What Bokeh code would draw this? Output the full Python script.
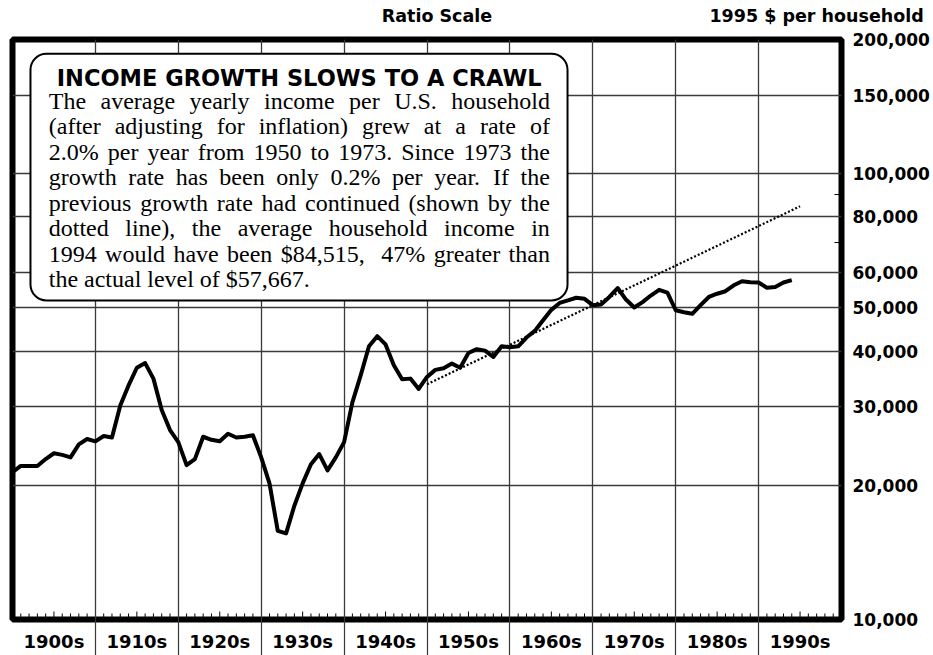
from bokeh.plotting import figure
from bokeh.models import (FixedTicker, BoxAnnotation, Label, LabelSet,
                          ColumnDataSource, Range1d, LinearAxis)
from bokeh.core.properties import value
from bokeh.embed import file_html
from bokeh.resources import INLINE

# ---------------- data ----------------
years = list(range(1900, 1995))
income = [
    21400, 22100, 22100, 22100, 22900, 23600, 23400, 23100, 24700, 25400,   # 1900s
    25100, 25800, 25600, 30200, 33500, 36700, 37600, 34700, 29500, 26600,   # 1910s
    25000, 22200, 22900, 25700, 25300, 25100, 26100, 25600, 25700, 25900,   # 1920s
    23100, 20200, 15800, 15600, 18000, 20200, 22300, 23500, 21600, 23100,   # 1930s
    25000, 30700, 35300, 41000, 43200, 41400, 37200, 34600, 34700, 32900,   # 1940s
    35000, 36300, 36600, 37500, 36700, 39600, 40400, 40100, 38800, 41000,   # 1950s
    40800, 41000, 42900, 44400, 46900, 49500, 51300, 52000, 52700, 52400,   # 1960s
    50700, 50900, 52900, 55400, 52200, 50100, 51500, 53300, 54900, 54100,   # 1970s
    49400, 48900, 48500, 50700, 52900, 53800, 54500, 56200, 57400, 57100,   # 1980s
    57000, 55500, 55700, 57000, 57700,                                       # 1990s
]

trend_years = [1950, 1995]
trend_income = [33700, 84500]

y_ticks = [10000, 20000, 30000, 40000, 50000, 60000, 80000, 100000, 150000, 200000]
y_tick_labels = ["10,000", "20,000", "30,000", "40,000", "50,000", "60,000",
                 "80,000", "100,000", "150,000", "200,000"]
y_minor_ticks = [70000, 90000]

decade_starts = [1900, 1910, 1920, 1930, 1940, 1950, 1960, 1970, 1980, 1990]
decade_labels = ["1900s", "1910s", "1920s", "1930s", "1940s", "1950s",
                 "1960s", "1970s", "1980s", "1990s"]

header_texts = ["Ratio Scale", "1995 $ per household"]
header_at = [1951.2, 1997.0]

box_title = "INCOME GROWTH SLOWS TO A CRAWL"
body_lines = [
    "The average yearly income per U.S. household",
    "(after adjusting for inflation) grew at a rate of",
    "2.0% per year from 1950 to 1973. Since 1973 the",
    "growth rate has been only 0.2% per year. If the",
    "previous growth rate had continued (shown by the",
    "dotted line), the average household income in",
    "1994 would have been $84,515,  47% greater than",
    "the actual level of $57,667.",
]

# ---------------- layout ----------------
W_FIG, H_FIG = 932, 655
MB_L, MB_R, MB_T, MB_B = 12, 90, 39, 36
FW = W_FIG - MB_L - MB_R      # frame width  (830)
FH = H_FIG - MB_T - MB_B      # frame height (580)
PAGE_FRAME_LEFT = MB_L
PAGE_FRAME_BOTTOM = MB_T + FH


def X(page_x):
    return 1900 + (page_x - PAGE_FRAME_LEFT) * 100.0 / FW


def Y(page_y):
    return 10000 * 20 ** ((PAGE_FRAME_BOTTOM - page_y) / FH)


p = figure(width=W_FIG, height=H_FIG, output_backend="svg", toolbar_location=None,
           y_axis_type="log", y_axis_location="right", x_axis_location=None,
           x_range=Range1d(1900, 2000), y_range=Range1d(10000, 200000),
           min_border_left=MB_L, min_border_right=MB_R,
           min_border_top=MB_T, min_border_bottom=MB_B)
p.background_fill_color = "white"
p.border_fill_color = "white"
p.outline_line_color = "black"
p.outline_line_width = 6

GRID = "#3a3a3a"
BOLD_SANS = "DejaVu Sans"

# decade labels with separators below the frame
SEP = 36
xb = LinearAxis(ticker=FixedTicker(ticks=[d + 5 for d in decade_starts],
                                   minor_ticks=decade_starts[1:]))
xb.major_label_overrides = {d + 5: lab for d, lab in zip(decade_starts, decade_labels)}
xb.axis_line_color = None
xb.major_tick_in = 0
xb.major_tick_out = 0
xb.minor_tick_in = 0
xb.minor_tick_out = SEP
xb.minor_tick_line_color = GRID
xb.minor_tick_line_width = 1.2
xb.major_label_standoff = 11 - SEP
xb.major_label_text_font = BOLD_SANS
xb.major_label_text_font_style = "bold"
xb.major_label_text_font_size = "18px"
xb.major_label_text_color = "black"
p.add_layout(xb, "below")

# header texts above the frame
xh = LinearAxis(ticker=FixedTicker(ticks=header_at, minor_ticks=[]))
xh.major_label_overrides = dict(zip(header_at, header_texts))
xh.axis_line_color = None
xh.major_tick_in = 0
xh.major_tick_out = 0
xh.minor_tick_in = 0
xh.minor_tick_out = 0
xh.major_label_standoff = 14
xh.major_label_text_font = BOLD_SANS
xh.major_label_text_font_style = "bold"
xh.major_label_text_font_size = "17.5px"
xh.major_label_text_color = "black"
p.add_layout(xh, "above")

# y axis on the right
ya = p.yaxis[0]
ya.ticker = FixedTicker(ticks=y_ticks, minor_ticks=y_minor_ticks)
ya.major_label_overrides = dict(zip(y_ticks, y_tick_labels))
ya.axis_line_color = None
ya.major_tick_in = 0
ya.major_tick_out = 0
ya.minor_tick_in = 7
ya.minor_tick_out = 0
ya.minor_tick_line_color = "black"
ya.minor_tick_line_width = 1.2
ya.major_label_standoff = 11
ya.major_label_text_font = BOLD_SANS
ya.major_label_text_font_style = "bold"
ya.major_label_text_font_size = "17px"
ya.major_label_text_color = "black"

p.xgrid.ticker = FixedTicker(ticks=decade_starts[1:])
p.ygrid.ticker = FixedTicker(ticks=y_ticks)
for g in (p.xgrid[0], p.ygrid[0]):
    g.grid_line_color = GRID
    g.grid_line_width = 1.3

# small inner year ticks along the bottom edge (5-year ones a bit longer)
tick_years = [y for y in range(1901, 2000) if y % 10 != 0]
tick_tops = [Y(PAGE_FRAME_BOTTOM - (8 if y % 5 == 0 else 6)) for y in tick_years]
p.segment(x0=tick_years, y0=[10000] * len(tick_years), x1=tick_years, y1=tick_tops,
          line_color="black", line_width=1)

# series
p.line(trend_years, trend_income, line_color="black", line_width=2.2, line_dash="2 2")
p.line(years, income, line_color="black", line_width=4, line_join="round")

# annotation box
p.add_layout(BoxAnnotation(left=X(30), right=X(567.7), top=Y(53.3), bottom=Y(300),
                           fill_color="white", fill_alpha=1.0, line_color="black",
                           line_alpha=1.0, line_width=2, border_radius=16))
p.add_layout(Label(x=X(299), y=Y(77), text=box_title, text_align="center",
                   text_baseline="alphabetic", text_font=BOLD_SANS,
                   text_font_style="bold", text_font_size="22.5px", text_color="black"))

# justified body text (Times metrics)
CW = {' ': 250, '$': 500, '%': 833, '(': 333, ')': 333, ',': 250, '.': 250}
for ch in "0123456789":
    CW[ch] = 500
CW.update(dict(A=722, B=667, C=667, D=722, E=611, F=556, G=722, H=722, I=333, J=389,
               K=722, L=611, M=889, N=722, O=722, P=556, Q=722, R=667, S=556, T=611,
               U=722, V=722, W=944, X=722, Y=722, Z=611))
CW.update(dict(a=444, b=500, c=444, d=500, e=444, f=333, g=500, h=500, i=278, j=278,
               k=500, l=278, m=778, n=500, o=500, p=500, q=500, r=333, s=389, t=278,
               u=500, v=500, w=722, x=500, y=500, z=444))
FS = 24
LEFT, RIGHT = 48.3, 550.0
bx, by, bt = [], [], []
for i, line in enumerate(body_lines):
    base = 108.5 + 25.45 * i
    words = line.split(" ")
    ws = [sum(CW.get(c, 500) for c in w) * FS / 1000.0 for w in words]
    if i < len(body_lines) - 1:
        gap = (RIGHT - LEFT - sum(ws)) / (len(words) - 1)
    else:
        gap = 250 * FS / 1000.0
    xpos = LEFT
    for w, wd in zip(words, ws):
        if w:
            bx.append(X(xpos))
            by.append(Y(base))
            bt.append(w)
        xpos += wd + gap

src = ColumnDataSource(dict(x=bx, y=by, text=bt))
p.add_layout(LabelSet(x="x", y="y", text="text", source=src,
                      text_font=value("Liberation Serif"),
                      text_font_size=value(f"{FS}px"),
                      text_align="left", text_baseline="alphabetic",
                      text_color="black"))

open("out.html", "w").write(file_html(p, INLINE))
